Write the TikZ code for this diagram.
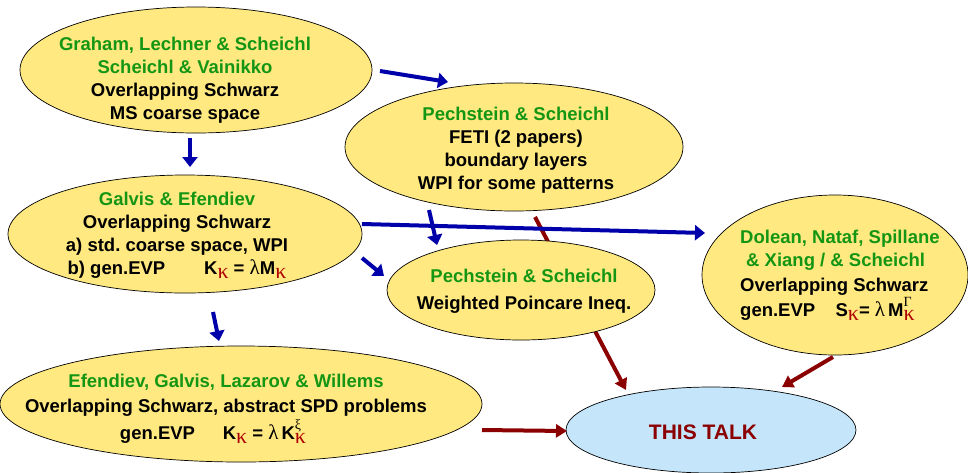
\documentclass[tikz,border=0pt]{standalone}
\usepackage{fontspec}
\setmainfont{Liberation Sans}
\newfontfamily\grk{Liberation Serif}
\usetikzlibrary{shapes.geometric,arrows.meta}
\definecolor{ellfill}{RGB}{255,233,128}
\definecolor{talkfill}{RGB}{197,230,250}
\definecolor{grn}{RGB}{20,150,20}
\definecolor{arrblue}{RGB}{0,0,170}
\definecolor{arrred}{RGB}{139,0,0}
\definecolor{kred}{RGB}{175,0,0}
\frenchspacing
\newcommand\kap{\raisebox{-4pt}{\textcolor{kred}{\grk\mdseries\fontsize{22}{22}\selectfont κ}}}
\newcommand\lam{{\grk\mdseries\fontsize{21}{21}\selectfont λ}}
\newcommand\supk[1]{\rlap{\raisebox{10pt}{\grk\mdseries\fontsize{14}{14}\selectfont #1}}\kap}
\tikzset{
  ell/.style={ellipse, draw=black, line width=0.7pt, fill=ellfill, inner sep=0pt},
  txt/.style={align=center, font=\bfseries\fontsize{18.5}{23}\selectfont, inner sep=0pt},
  barrow/.style={draw=arrblue, line width=4pt, -{Triangle[length=10pt,width=15pt]}},
  rarrow/.style={draw=arrred, line width=4pt, -{Triangle[length=11pt,width=13pt]}},
}
\begin{document}
\begin{tikzpicture}[x=1pt,y=-1pt]
\useasboundingbox (0,0) rectangle (968,472);
% ellipses
\node[ell, minimum width=352pt, minimum height=126pt] (A) at (196,70) {};
\node[ell, minimum width=338pt, minimum height=128pt] (B) at (514,147) {};
\node[ell, minimum width=354pt, minimum height=118pt] (C) at (185,234) {};
\node[ell, minimum width=266pt, minimum height=160pt] (E) at (835,275) {};
\node[ell, minimum width=482pt, minimum height=116pt] (F) at (241,404) {};
\node[ell, fill=talkfill, minimum width=290pt, minimum height=86pt] (G) at (711,430) {};
% red arrow behind D
\coordinate (bg0) at (535,217);
\coordinate (bg1) at (626,390);
\draw[rarrow] (bg0) -- (bg1);
\node[ell, minimum width=268pt, minimum height=100pt] (D) at (521,290) {};
% texts
\node[txt] (At) at (185,80) {\textcolor{grn}{Graham, Lechner \& Scheichl}\\\textcolor{grn}{Scheichl \& Vainikko}\\Overlapping Schwarz\\MS coarse space};
\node[txt] (Bt) at (516,150) {\textcolor{grn}{Pechstein \& Scheichl}\\FETI (2 papers)\\boundary layers\\WPI for some patterns};
\node[txt] (Ct) at (177,235) {\textcolor{grn}{Galvis \& Efendiev}\\Overlapping Schwarz\\a) std. coarse space, WPI\\b) gen.EVP\hspace{2.1em}K\kap{} = \lam M\kap};
\node[txt] (Dt) at (524,291) {\textcolor{grn}{Pechstein \& Scheichl}\\[4pt]Weighted Poincare Ineq.};
\node[txt, align=left, anchor=west] (Et) at (740,275) {\textcolor{grn}{Dolean, Nataf, Spillane}\\\hspace*{6pt}\textcolor{grn}{\& Xiang / \& Scheichl}\\[2pt]Overlapping Schwarz\\[1pt]gen.EVP\hspace{1.1em}S\kap= \lam\,M\supk{Γ}};
\node[txt] (Ft) at (226,409) {\textcolor{grn}{Efendiev, Galvis, Lazarov \& Willems}\\[2pt]Overlapping Schwarz, abstract SPD problems\\[2pt]gen.EVP\hspace{1.5em}K\kap{} = \lam\,K\supk{ξ}\hspace{26pt}\mbox{}};
\node[txt, font=\bfseries\fontsize{21}{24}\selectfont, text=arrred] (Gt) at (703,432) {THIS TALK};
% blue arrows
\coordinate (ab0) at (380,71);  \coordinate (ab1) at (448,82);
\coordinate (ac0) at (190,138); \coordinate (ac1) at (190,167);
\coordinate (bd0) at (429,210); \coordinate (bd1) at (437,245);
\coordinate (ce0) at (362,224); \coordinate (ce1) at (705,233);
\coordinate (cd0) at (362,258); \coordinate (cd1) at (384,276);
\coordinate (cf0) at (213,312); \coordinate (cf1) at (219,341);
\draw[barrow] (ab0) -- (ab1);
\draw[barrow] (ac0) -- (ac1);
\draw[barrow] (ce0) -- (ce1);
\draw[barrow] (bd0) -- (bd1);
\draw[barrow] (cd0) -- (cd1);
\draw[barrow] (cf0) -- (cf1);
% red arrows
\coordinate (eg0) at (833,357); \coordinate (eg1) at (782,387);
\coordinate (fg0) at (482,430); \coordinate (fg1) at (567,431);
\draw[rarrow] (eg0) -- (eg1);
\draw[rarrow] (fg0) -- (fg1);
\end{tikzpicture}
\end{document}
